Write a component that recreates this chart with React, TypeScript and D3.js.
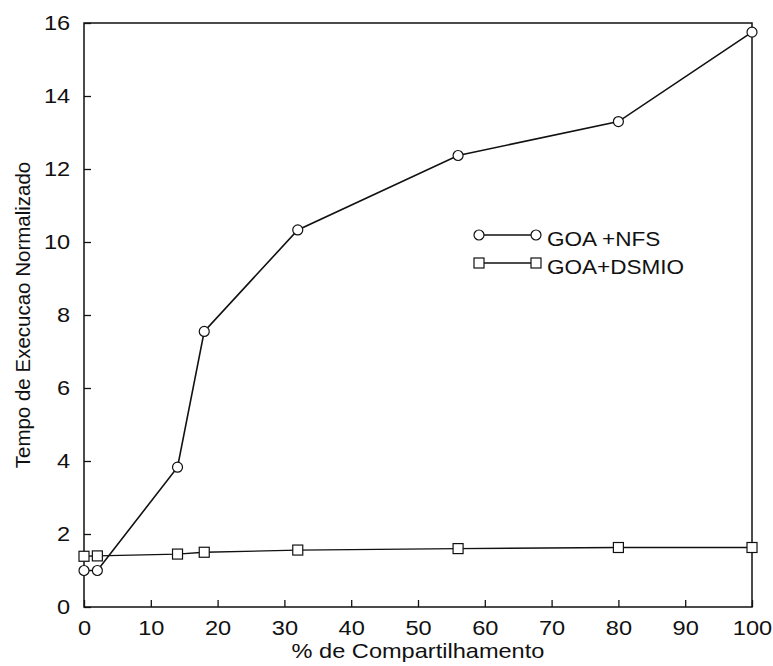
import React, { useEffect, useRef } from "react";
import * as d3 from "d3";

const shares = [0, 2, 14, 18, 32, 56, 80, 100];
const nfsTimes = [1.0, 1.0, 3.83, 7.55, 10.33, 12.37, 13.3, 15.75];
const dsmioTimes = [1.39, 1.4, 1.45, 1.5, 1.56, 1.6, 1.63, 1.63];
const xTicks = [0, 10, 20, 30, 40, 50, 60, 70, 80, 90, 100];
const yTicks = [0, 2, 4, 6, 8, 10, 12, 14, 16];
const seriesNames = ["GOA +NFS", "GOA+DSMIO"];

const W = 773;
const H = 666;
const margin = { top: 23, right: 21, bottom: 59, left: 84 };
const FONT = "'Liberation Sans', Arial, sans-serif";
// the scan is a little wider than tall, so stretch horizontal text
const STRETCH = 1.15;

export default function App() {
  const ref = useRef<SVGSVGElement>(null);

  useEffect(() => {
    const svg = d3.select(ref.current);
    svg.selectAll("*").remove();

    const x = d3
      .scaleLinear()
      .domain([0, 100])
      .range([margin.left, W - margin.right]);
    const y = d3
      .scaleLinear()
      .domain([0, 16])
      .range([H - margin.bottom, margin.top]);

    // frame
    svg
      .append("rect")
      .attr("x", x(0))
      .attr("y", y(16))
      .attr("width", x(100) - x(0))
      .attr("height", y(0) - y(16))
      .attr("fill", "none")
      .attr("stroke", "#111")
      .attr("stroke-width", 1.5);

    // x axis, ticks pointing inward
    const xAxis = svg
      .append("g")
      .attr("transform", `translate(0, ${y(0)})`)
      .call(d3.axisBottom(x).tickValues(xTicks).tickSizeInner(-7).tickSizeOuter(0).tickPadding(13));
    xAxis.select(".domain").remove();
    xAxis.selectAll("line").attr("stroke", "#111").attr("stroke-width", 1.3);
    xAxis
      .selectAll("text")
      .attr("font-family", FONT)
      .attr("font-size", 20.5)
      .attr("fill", "#111")
      .attr("transform", `scale(${STRETCH},1)`);

    const yAxis = svg
      .append("g")
      .attr("transform", `translate(${x(0)}, 0)`)
      .call(d3.axisLeft(y).tickValues(yTicks).tickSizeInner(-7).tickSizeOuter(0).tickPadding(12));
    yAxis.select(".domain").remove();
    yAxis.selectAll("line").attr("stroke", "#111").attr("stroke-width", 1.3);
    yAxis
      .selectAll("text")
      .attr("font-family", FONT)
      .attr("font-size", 20.5)
      .attr("fill", "#111")
      .attr("transform", `scale(${STRETCH},1)`);

    // axis titles
    svg
      .append("text")
      .attr("transform", `translate(${(x(0) + x(100)) / 2}, 658) scale(${STRETCH},1)`)
      .attr("text-anchor", "middle")
      .attr("font-family", FONT)
      .attr("font-size", 20.5)
      .attr("fill", "#111")
      .text("% de Compartilhamento");

    svg
      .append("text")
      .attr("transform", `translate(30, ${(y(0) + y(16)) / 2}) rotate(-90)`)
      .attr("text-anchor", "middle")
      .attr("font-family", FONT)
      .attr("font-size", 20.5)
      .attr("fill", "#111")
      .text("Tempo de Execucao Normalizado");

    const line = d3
      .line<[number, number]>()
      .x((d) => x(d[0]))
      .y((d) => y(d[1]));

    const nfs: [number, number][] = shares.map((s, i) => [s, nfsTimes[i]]);
    const dsmio: [number, number][] = shares.map((s, i) => [s, dsmioTimes[i]]);

    const drawCircle = (g: any, cx: number, cy: number) =>
      g
        .append("circle")
        .attr("cx", cx)
        .attr("cy", cy)
        .attr("r", 5)
        .attr("fill", "white")
        .attr("stroke", "#111")
        .attr("stroke-width", 1.2);
    const drawSquare = (g: any, cx: number, cy: number) =>
      g
        .append("rect")
        .attr("x", cx - 5)
        .attr("y", cy - 5)
        .attr("width", 10)
        .attr("height", 10)
        .attr("fill", "white")
        .attr("stroke", "#111")
        .attr("stroke-width", 1.2);

    svg
      .append("path")
      .datum(dsmio)
      .attr("d", line)
      .attr("fill", "none")
      .attr("stroke", "#111")
      .attr("stroke-width", 1.3);
    svg
      .append("path")
      .datum(nfs)
      .attr("d", line)
      .attr("fill", "none")
      .attr("stroke", "#111")
      .attr("stroke-width", 1.6);

    dsmio.forEach((d) => drawSquare(svg, x(d[0]), y(d[1])));
    nfs.forEach((d) => drawCircle(svg, x(d[0]), y(d[1])));

    // legend
    const lg = svg.append("g");
    const rows = [235, 263];
    seriesNames.forEach((name, i) => {
      const ly = rows[i];
      lg.append("line")
        .attr("x1", 479)
        .attr("x2", 536)
        .attr("y1", ly)
        .attr("y2", ly)
        .attr("stroke", "#111")
        .attr("stroke-width", 1.3);
      if (i === 0) {
        drawCircle(lg, 479, ly);
        drawCircle(lg, 536, ly);
      } else {
        drawSquare(lg, 479, ly);
        drawSquare(lg, 536, ly);
      }
      lg.append("text")
        .attr("transform", `translate(547, ${ly + 11}) scale(1.1,1)`)
        .attr("font-family", FONT)
        .attr("font-size", 20.5)
        .attr("fill", "#111")
        .text(name);
    });
  }, []);

  return (
    <svg
      ref={ref}
      width={W}
      height={H}
      style={{ position: "absolute", left: 0, top: 0, background: "white" }}
    />
  );
}
